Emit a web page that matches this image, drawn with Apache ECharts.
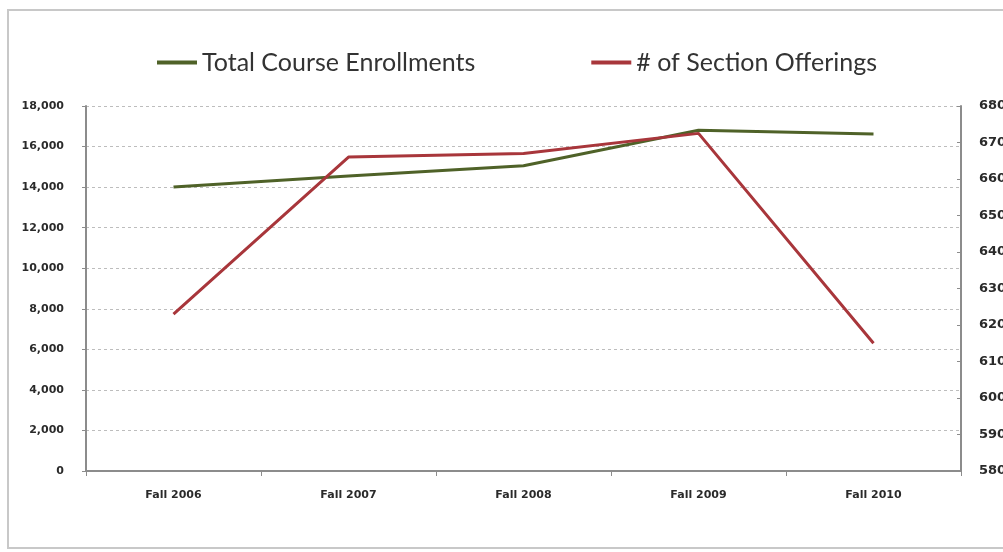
<!DOCTYPE html>
<html>
<head>
<meta charset="utf-8">
<script src="https://cdn.jsdelivr.net/npm/echarts@6/dist/echarts.min.js"></script>
<style>
  html, body { margin: 0; padding: 0; background: #fff; }
  #root { width: 1003px; height: 552px; }
</style>
</head>
<body>
<div id="root"></div>
<script>
// chart data
const terms = ['Fall 2006', 'Fall 2007', 'Fall 2008', 'Fall 2009', 'Fall 2010'];
const enrollments = [14000, 14550, 15050, 16800, 16620];
const sections = [623, 666, 667, 672.5, 615];
const seriesNames = ['Total Course Enrollments', '# of Section Offerings'];

const chart = echarts.init(document.getElementById('root'));

const labelFont = {
  fontFamily: 'DejaVu Sans',
  fontSize: 11,
  fontWeight: 'bold',
  color: '#2a2a2a'
};

const option = {
  backgroundColor: '#fff',
  animation: false,
  graphic: [{
    type: 'rect',
    shape: { x: 8, y: 10, width: 1010, height: 538 },
    style: { fill: 'none', stroke: '#c8c8c8', lineWidth: 2 },
    z: -1
  }],
  legend: {
    left: 152,
    top: 45,
    itemGap: 116,
    itemWidth: 40,
    itemHeight: 4,
    icon: 'rect',
    textStyle: { fontFamily: 'Lato', fontSize: 25, color: '#333' },
    data: seriesNames
  },
  // keep the plot where the reference has it, the right labels run off the edge
  grid: { left: 86, right: 42, top: 106, bottom: 81, containLabel: false, outerBoundsMode: 'none' },
  xAxis: {
    type: 'category',
    data: terms,
    boundaryGap: true,
    axisLine: { lineStyle: { color: '#8c8c8c', width: 2 } },
    axisTick: { show: true, length: 5, lineStyle: { color: '#8c8c8c' } },
    axisLabel: Object.assign({ margin: 19 }, labelFont)
  },
  yAxis: [{
    type: 'value',
    min: 0,
    max: 18000,
    interval: 2000,
    position: 'left',
    axisLine: { show: true, lineStyle: { color: '#8c8c8c', width: 2 } },
    axisTick: { show: true, length: 4, lineStyle: { color: '#8c8c8c' } },
    axisLabel: Object.assign({
      margin: 22,
      formatter: (v) => v.toLocaleString('en-US')
    }, labelFont),
    splitLine: { lineStyle: { color: '#bdbdbd', type: [3, 3] } }
  }, {
    type: 'value',
    min: 580,
    max: 680,
    interval: 10,
    position: 'right',
    axisLine: { show: true, lineStyle: { color: '#8c8c8c', width: 2 } },
    axisTick: { show: true, inside: true, length: 4, lineStyle: { color: '#8c8c8c' } },
    axisLabel: Object.assign({}, labelFont, { margin: 18, fontSize: 13 }),
    splitLine: { show: false }
  }],
  series: [{
    name: seriesNames[0],
    type: 'line',
    yAxisIndex: 0,
    data: enrollments,
    symbol: 'none',
    color: '#4f6228',
    lineStyle: { width: 3, color: '#4f6228' }
  }, {
    name: seriesNames[1],
    type: 'line',
    yAxisIndex: 1,
    data: sections,
    symbol: 'none',
    color: '#a8363b',
    lineStyle: { width: 3, color: '#a8363b' }
  }]
};

chart.setOption(option);
</script>
</body>
</html>
